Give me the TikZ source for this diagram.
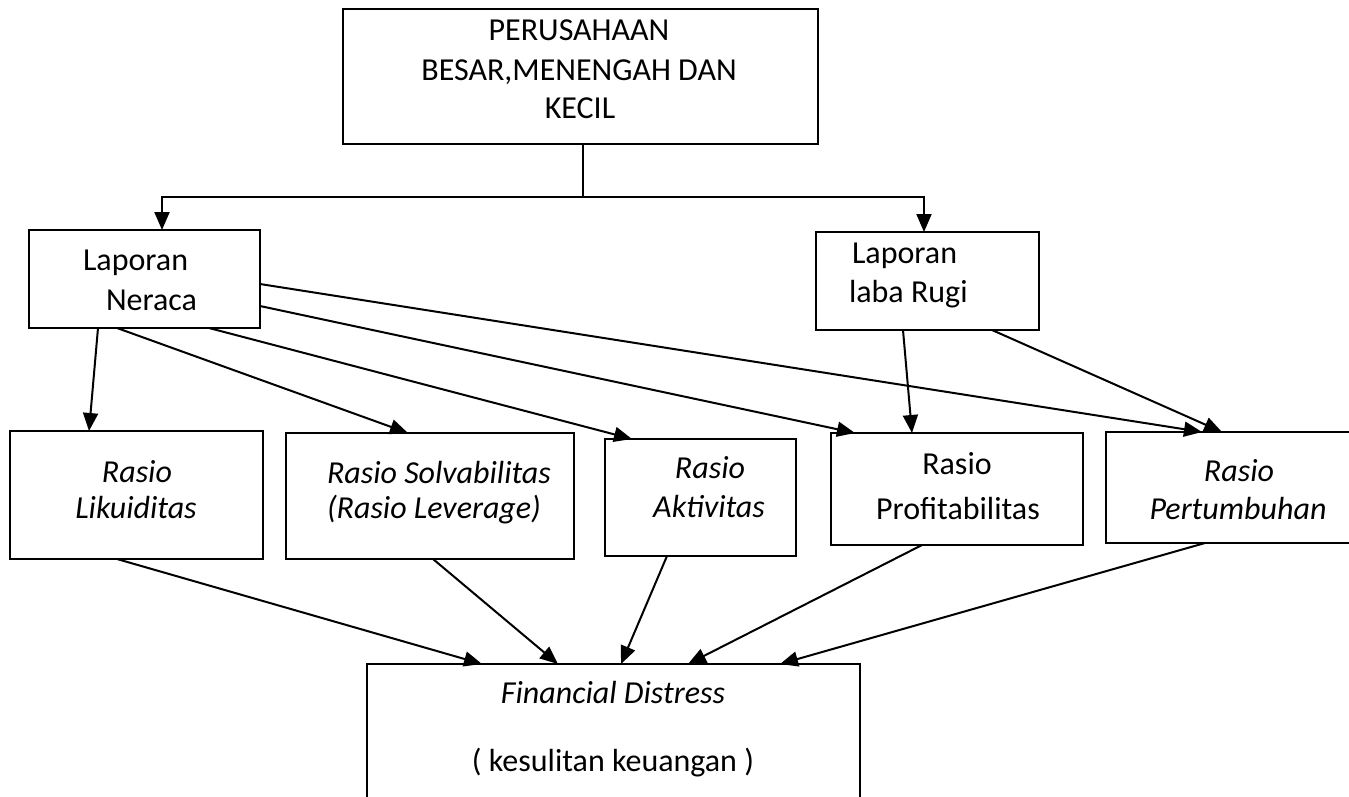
\documentclass[tikz,border=0pt]{standalone}
\usepackage{fontspec}
\setmainfont{Carlito}
\usetikzlibrary{arrows.meta,calc}
\tikzset{
  boxnode/.style={draw, line width=2pt, inner sep=0pt, outer sep=0pt, anchor=north west},
  openbox/.style={inner sep=0pt, outer sep=0pt, anchor=north west},
  txt/.style={inner sep=0pt, outer sep=0pt, font=\fontsize{32}{38}\selectfont},
  itxt/.style={txt, font=\fontsize{32}{38}\selectfont\itshape},
  conn/.style={line width=2pt},
  arr/.style={conn, -{Triangle[length=18pt,width=15pt]}},
}
\begin{document}
\begin{tikzpicture}[x=1pt,y=-1pt]
\useasboundingbox (0,0) rectangle (1349,796);
% boxes
\node[boxnode, minimum width=475, minimum height=135] (top) at (343,9) {};
\node[boxnode, minimum width=231, minimum height=98] (ner) at (29,230) {};
\node[boxnode, minimum width=223, minimum height=98] (lr) at (816,232) {};
\node[boxnode, minimum width=253, minimum height=128] (lik) at (10,431) {};
\node[boxnode, minimum width=288, minimum height=126] (sol) at (286,433) {};
\node[boxnode, minimum width=191, minimum height=117] (akt) at (605,439) {};
\node[boxnode, minimum width=252, minimum height=112] (pro) at (831,433) {};
\node[openbox, minimum width=260, minimum height=111] (per) at (1106,432) {};
\draw[line width=2pt] (per.north east) -- (per.north west) -- (per.south west) -- (per.south east);
\node[openbox, minimum width=493, minimum height=140] (fd) at (367,664) {};
\draw[line width=2pt] (fd.south west) -- (fd.north west) -- (fd.north east) -- (fd.south east);
% texts
\node[txt, anchor=base] (t1) at (579,40) {PERUSAHAAN};
\node[txt, anchor=base] (t2) at (579,80) {BESAR,MENENGAH DAN};
\node[txt, anchor=base] (t3) at (580,118) {KECIL};
\node[txt, anchor=base west] (n1) at (83,270) {Laporan};
\node[txt, anchor=base west] (n2) at (106,310) {Neraca};
\node[txt, anchor=base west] (l1) at (852,263) {Laporan};
\node[txt, anchor=base west] (l2) at (849,302) {laba Rugi};
\node[itxt, anchor=base] (k1) at (137,482) {Rasio};
\node[itxt, anchor=base] (k2) at (136,518) {Likuiditas};
\node[itxt, anchor=base west] (s1) at (327,483) {Rasio Solvabilitas};
\node[itxt, anchor=base west] (s2) at (327,518) {(Rasio Leverage)};
\node[itxt, anchor=base] (a1) at (710,478) {Rasio};
\node[itxt, anchor=base] (a2) at (709,517) {Aktivitas};
\node[txt, anchor=base] (p1) at (957,474) {Rasio};
\node[txt, anchor=base] (p2) at (958,519) {Profitabilitas};
\node[itxt, anchor=base] (g1) at (1239,481) {Rasio};
\node[itxt, anchor=base] (g2) at (1238,519) {Pertumbuhan};
\node[itxt, anchor=base] (f1) at (613,703) {Financial Distress};
\node[txt, anchor=base] (f2) at (613,771) {( kesulitan keuangan )};
% top connectors
\coordinate (j) at (583,197);
\draw[conn] ($(top.south west)+(240,0)$) -- (j);
\draw[arr] (j) -| ($(ner.north west)+(133,0)$);
\draw[arr] (j) -| ($(lr.north west)+(108,0)$);
% from Neraca
\draw[arr] ($(ner.south west)+(69,0)$) -- ($(lik.north west)+(79,0)$);
\draw[arr] ($(ner.south west)+(88,0)$) -- ($(sol.north west)+(122,0)$);
\draw[arr] ($(ner.south west)+(180,0)$) -- ($(akt.north west)+(27,0)$);
\draw[arr] ($(ner.north east)+(0,76)$) -- ($(pro.north west)+(24,0)$);
\draw[arr] ($(ner.north east)+(0,54)$) -- ($(per.north west)+(96,0)$);
% from Laba Rugi
\draw[arr] ($(lr.south west)+(87,0)$) -- ($(pro.north west)+(81,0)$);
\draw[arr] ($(lr.south west)+(176,0)$) -- ($(per.north west)+(116,0)$);
% to Financial Distress
\draw[arr] ($(lik.south west)+(107,0)$) -- ($(fd.north west)+(115,0)$);
\draw[arr] ($(sol.south west)+(147,0)$) -- ($(fd.north west)+(191,0)$);
\draw[arr] ($(akt.south west)+(62,0)$) -- ($(fd.north west)+(254,0)$);
\draw[arr] ($(pro.south west)+(91,0)$) -- ($(fd.north west)+(321,0)$);
\draw[arr] ($(per.south west)+(99,0)$) -- ($(fd.north west)+(413,0)$);
\end{tikzpicture}
\end{document}
